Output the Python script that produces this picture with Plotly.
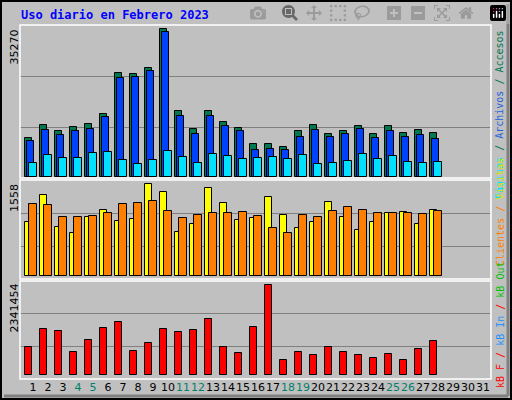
import plotly.graph_objects as go
import numpy as np

days = list(range(1, 29))
all_days = list(range(1, 32))
weekend = [4, 5, 11, 12, 18, 19, 25, 26]

accesos = [9150,12250,10820,11770,12490,14880,24670,24430,25860,35270,15600,11300,15600,12970,11530,7720,7720,7000,10820,12250,10100,10820,12010,10100,12010,10340,11060,10340]
archivos = [8430,11060,9860,10820,11300,14160,23470,23710,25150,34460,14400,10100,14400,12010,10820,6280,6520,6280,9380,11060,9380,10100,11300,9150,10820,9380,9860,8910]
paginas = [3180,5090,4370,4370,5570,5810,3900,2940,3900,6050,4610,3180,5330,4850,4130,4370,4610,4130,5090,2940,3180,3650,5330,4130,4850,3420,3180,3420]
visitas = [914,1372,830,728,999,1118,931,965,1558,1423,745,881,1490,1236,948,982,1338,1033,813,914,1253,999,779,914,1067,1084,881,1118]
clientes = [1219,1202,999,999,1016,1067,1219,1236,1270,1101,982,1033,1067,1067,1084,1016,813,728,1033,999,1101,1169,1118,1067,1067,1067,1050,1101]
kb = [726300,1213400,1162100,598200,905800,1239000,1392800,623800,828900,1213400,1136500,1187800,1469700,726300,572500,1264700,2341454,393100,598200,521200,726300,598200,521200,444300,546900,393100,675100,880100]

d = np.array(days, dtype=float)
line = dict(color="black", width=1)
fig = go.Figure()
fig.add_bar(x=d - 0.28, y=accesos, width=0.48, marker=dict(color="#007850", line=line), xaxis="x", yaxis="y")
fig.add_bar(x=d - 0.15, y=archivos, width=0.48, marker=dict(color="#0040ff", line=line), xaxis="x", yaxis="y")
fig.add_bar(x=d, y=paginas, width=0.48, marker=dict(color="#00e0ff", line=line), xaxis="x", yaxis="y")
fig.add_bar(x=d - 0.28, y=visitas, width=0.48, marker=dict(color="#ffff00", line=line), xaxis="x", yaxis="y2")
fig.add_bar(x=d, y=clientes, width=0.48, marker=dict(color="#ff8000", line=line), xaxis="x", yaxis="y2")
fig.add_bar(x=d - 0.28, y=kb, width=0.48, marker=dict(color="#ff0000", line=line), xaxis="x", yaxis="y3")

W, H = 512, 400
def py(p): return 1 - p / H
def px(p): return p / W

ticktext = [f'<span style="color:{"#00806b" if i in weekend else "black"}">{i}</span>' for i in all_days]
xr = [1 - 13 / 15, 1 + 458 / 15]
grid = dict(showgrid=True, gridcolor="#808080", gridwidth=1, showticklabels=False, zeroline=False, ticks="")
fig.update_layout(
    width=W, height=H, margin=dict(l=0, r=0, t=0, b=0),
    paper_bgcolor="#c0c0c0", plot_bgcolor="#c0c0c0", showlegend=False, barmode="overlay",
    bargap=0,
    xaxis=dict(domain=[px(20), px(491)], range=xr, anchor="y3", tickvals=all_days, ticktext=ticktext,
               tickangle=0, tickfont=dict(family="DejaVu Sans", size=11), showgrid=False, zeroline=False,
               ticks="", ticklen=0),
    yaxis=dict(domain=[py(178), py(25)], range=[-310, 36230], tickvals=[11870, 24050], **grid),
    yaxis2=dict(domain=[py(279), py(180)], range=[-46, 1626], tickvals=[508, 1067], **grid),
    yaxis3=dict(domain=[py(379), py(281)], range=[-92200, 2443900], tickvals=[753200, 1598500], **grid),
)

shapes = []
for (t, b) in [(25, 178), (180, 279), (281, 379)]:
    shapes.append(dict(type="rect", xref="paper", yref="paper", x0=px(20), x1=px(491), y0=py(b), y1=py(t),
                       line=dict(color="white", width=1.5)))
shapes.append(dict(type="rect", xref="paper", yref="paper", x0=px(1), x1=px(511), y0=py(399), y1=py(1),
                   line=dict(color="black", width=2)))
shapes.append(dict(type="line", xref="paper", yref="paper", x0=px(508), x1=px(508), y0=py(396), y1=py(4),
                   line=dict(color="#808080", width=3)))
shapes.append(dict(type="line", xref="paper", yref="paper", x0=px(4), x1=px(508), y0=py(396), y1=py(396),
                   line=dict(color="#808080", width=3)))
fig.update_layout(shapes=shapes)

ann = []
ann.append(dict(text="<b>Uso diario en Febrero 2023</b>", x=px(19), y=py(15), xanchor="left", yanchor="middle",
                font=dict(family="DejaVu Sans Mono", size=12, color="#0000ff")))
for lab, top in [("35270", 28), ("1558", 182), ("2341454", 282)]:
    ann.append(dict(text=lab, x=px(14), y=py(top), textangle=-90, xanchor="center", yanchor="top",
                    font=dict(family="DejaVu Sans", size=11, color="black")))
mono = "DejaVu Sans Mono"
ann.append(dict(text='<span style="color:#00e0ff">Páginas</span> / <span style="color:#2060e0">Archivos</span> / <span style="color:#007850">Accesos</span>',
                x=px(500), y=py(115), textangle=-90, xanchor="center", yanchor="middle", font=dict(family=mono, size=10, color="#007850")))
ann.append(dict(text='<span style="color:#ff8000">Clientes</span> / <span style="color:#e0e000">Visitas</span>',
                x=px(500), y=py(212), textangle=-90, xanchor="center", yanchor="middle", font=dict(family=mono, size=10, color="#ff8000")))
ann.append(dict(text='<span style="color:#ff0000">kB F</span> / <span style="color:#2090ff">kB In</span> / <span style="color:#00c000">kB Out</span>',
                x=px(500), y=py(325), textangle=-90, xanchor="center", yanchor="middle", font=dict(family=mono, size=10, color="#ff0000")))
for a in ann:
    a.update(xref="paper", yref="paper", showarrow=False)
fig.update_layout(annotations=ann)

fig.write_html("out.html", post_script="document.body.style.margin='0';document.body.style.overflow='hidden';")
